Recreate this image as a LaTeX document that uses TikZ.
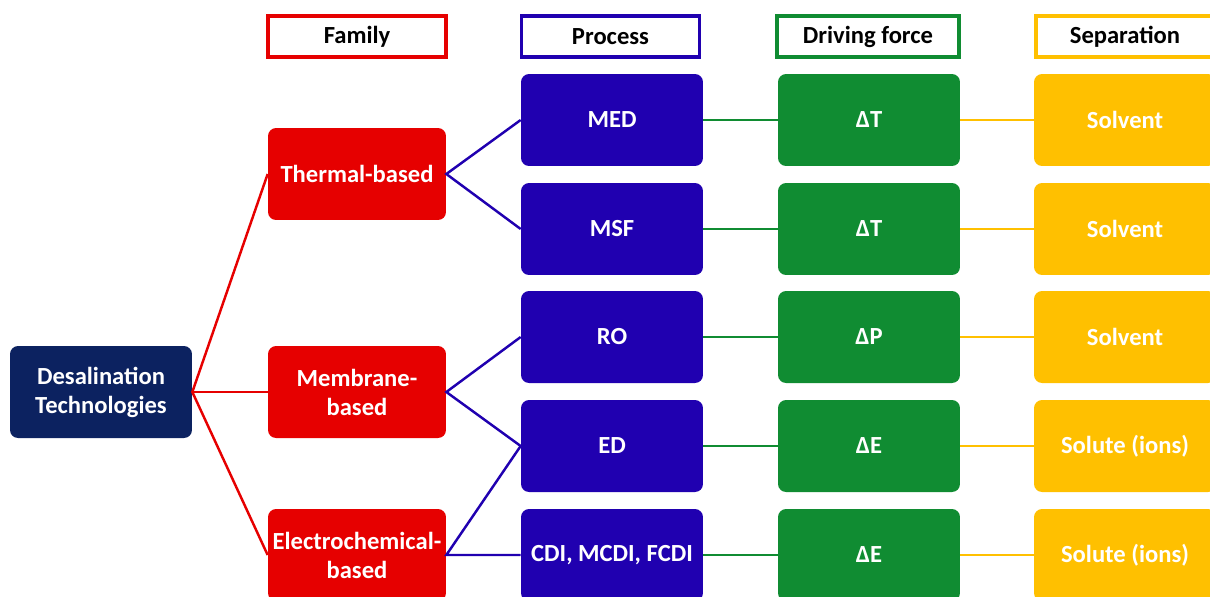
\documentclass[tikz,border=0pt]{standalone}
\usepackage{fontspec}
\setmainfont{Carlito}
\definecolor{desalnavy}{RGB}{12,34,96}
\definecolor{familyred}{RGB}{230,0,0}
\definecolor{processblue}{RGB}{32,0,176}
\definecolor{forcegreen}{RGB}{16,140,50}
\definecolor{sepyellow}{RGB}{255,192,0}

\begin{document}
\begin{tikzpicture}[x=0.02cm,y=-0.02cm,
    box/.style={rounded corners=0.16cm,minimum width=3.64cm,minimum height=1.84cm,
        align=center,text=white,inner sep=2pt,font=\bfseries\fontsize{14}{16.5}\selectfont},
    head/.style={draw,line width=2pt,fill=white,minimum width=3.56cm,minimum height=0.82cm,
        font=\bfseries\fontsize{14}{16.5}\selectfont},
    link/.style={line width=1.4pt}]
    \clip (0,0) rectangle (1210,596);
    % column headers
    \node[head,draw=familyred] (hfamily) at (357,36.5) {Family};
    \node[head,draw=processblue] (hprocess) at (610.5,36.5) {Process};
    \node[head,draw=forcegreen,minimum width=3.64cm] (hforce) at (868,36.5) {Driving force};
    \node[head,draw=sepyellow] (hsep) at (1125,36.5) {Separation};
    % root and families
    \node[box,fill=desalnavy] (desal) at (101,392) {Desalination\\Technologies};
    \node[box,fill=familyred,minimum width=3.56cm] (thermal) at (357,174) {Thermal-based};
    \node[box,fill=familyred,minimum width=3.56cm] (membrane) at (357,392) {Membrane-\\based};
    \node[box,fill=familyred,minimum width=3.56cm] (electro) at (357,555) {Electrochemical-\\based};
    % processes, driving forces, separations
    \foreach \name/\yy/\proc/\force/\sep in {med/120/MED/T/Solvent,msf/229/MSF/T/Solvent,
        ro/337/RO/P/Solvent,ed/446/ED/E/Solute (ions),cdi/555/{CDI, MCDI, FCDI}/E/Solute (ions)}
    {
        \node[box,fill=processblue] (\name) at (612,\yy) {\proc};
        \node[box,fill=forcegreen] (\name-force) at (869,\yy) {Δ\force};
        \node[box,fill=sepyellow] (\name-sep) at (1125,\yy) {\sep};
        \draw[link,forcegreen] (\name.east) -- (\name-force.west);
        \draw[link,sepyellow] (\name-force.east) -- (\name-sep.west);
    }
    \draw[link,familyred] (thermal.west) -- (desal.east) -- (electro.west);
    \draw[link,familyred] (desal.east) -- (membrane.west);
    \draw[link,processblue] (med.west) -- (thermal.east) -- (msf.west);
    \draw[link,processblue] (ro.west) -- (membrane.east) -- (ed.west);
    \draw[link,processblue] (ed.west) -- (electro.east) -- (cdi.west);
\end{tikzpicture}
\end{document}
